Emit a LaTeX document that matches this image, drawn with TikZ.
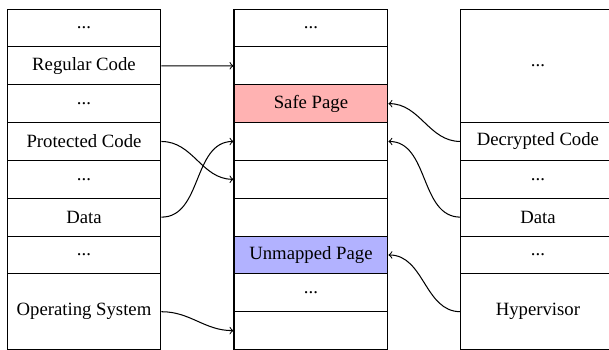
\documentclass[tikz,border=0pt]{standalone}
\usepackage{fontspec}
\setmainfont{Liberation Serif}
\usetikzlibrary{matrix}

\tikzset{
  cell/.style={draw, minimum width=82.2pt, minimum height=20.2pt, inner sep=0pt},
  dbl/.style={minimum height=40.4pt},
  trpl/.style={minimum height=60.6pt},
  safe/.style={fill=red!30},
  unmapped/.style={fill=blue!30},
  mem/.style={matrix of nodes, nodes in empty cells, row sep=-\pgflinewidth,
    nodes={cell}, inner sep=0pt, anchor=north west}
}

\begin{document}
\begin{tikzpicture}[>=to, line width=0.55pt]
    \useasboundingbox (0,0) rectangle (325.2pt,-186.9pt);

    \matrix [mem] (guest) at (3.2pt,-4.3pt) {%
      ...              \\
      Regular Code     \\
      ...              \\
      Protected Code   \\
      ...              \\
      Data             \\
      ...              \\
      |[dbl]| Operating System \\
    };

    \matrix [mem] (host) at (124.4pt,-4.3pt) {%
      ...                        \\
                                 \\
      |[safe]| Safe Page         \\
                                 \\
                                 \\
                                 \\
      |[unmapped]| Unmapped Page \\
      ...                        \\
                                 \\
    };

    \matrix [mem] (hyper) at (245.6pt,-4.3pt) {%
      |[trpl]| ...       \\
      Decrypted Code     \\
      ...                \\
      Data               \\
      ...                \\
      |[dbl]| Hypervisor \\
    };

    \path[->] (guest-2-1.east) edge                 (host-2-1.west)
              (guest-4-1.east) edge[out=0,in=180]   (host-5-1.west)
              (guest-6-1.east) edge[out=0,in=180]   (host-4-1.west)
              (guest-8-1.east) edge[out=0,in=180]   (host-9-1.west)
              (hyper-2-1.west) edge[out=180,in=0]   (host-3-1.east)
              (hyper-4-1.west) edge[out=180,in=0]   (host-4-1.east)
              (hyper-6-1.west) edge[out=180,in=0]   (host-7-1.east);
\end{tikzpicture}
\end{document}
